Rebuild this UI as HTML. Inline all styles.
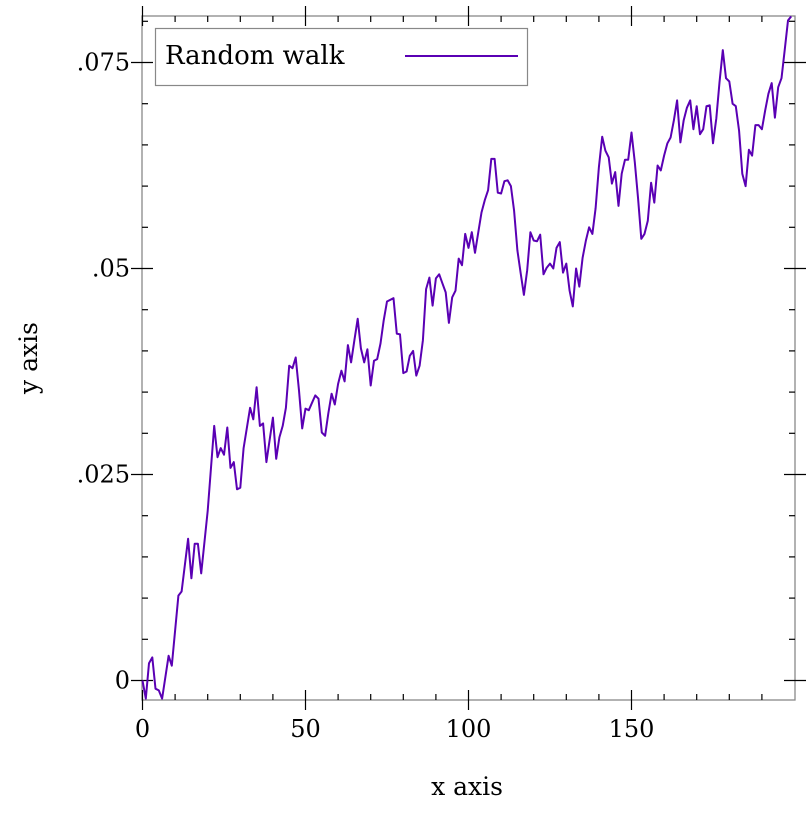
<!DOCTYPE html>
<html><head><meta charset="utf-8"><style>
body{margin:0;background:#fff}
svg text{font-family:"DejaVu Serif","Liberation Serif",serif;fill:#000}
</style></head><body>
<svg id="c" width="812" height="812" viewBox="0 0 812 812"></svg>
<script>
const xs=[0,1,2,3,4,5,6,8,9,11,12,14,15,16,17,18,20,22,23,24,25,26,27,28,29,30,31,33,34,35,36,37,38,40,41,42,43,44,45,46,47,48,49,50,51,52,53,54,55,56,57,58,59,60,61,62,63,64,65,66,67,68,69,70,71,72,73,74,75,77,78,79,80,81,82,83,84,85,86,87,88,89,90,91,92,93,94,95,96,97,98,99,100,101,102,103,104,105,106,107,108,109,110,111,112,113,114,115,116,117,118,119,120,121,122,123,124,125,126,127,128,129,130,131,132,133,134,135,136,137,138,139,140,141,142,143,144,145,146,147,148,149,150,151,152,153,154,155,156,157,158,159,160,161,162,163,164,165,166,167,168,169,170,171,172,173,174,175,176,177,178,179,180,181,182,183,184,185,186,187,188,189,190,191,192,193,194,195,196,197,198,199];
const ysMilli=[0,-2.2,2.1,2.8,-1.0,-1.2,-2.2,3.0,1.8,10.3,10.8,17.2,12.4,16.6,16.6,13.0,20.6,30.9,27.1,28.2,27.4,30.7,25.8,26.5,23.2,23.4,28.2,33.1,31.7,35.6,30.9,31.2,26.5,31.9,26.9,29.5,30.9,33.1,38.2,37.9,39.2,35.2,30.6,33.0,32.8,33.7,34.6,34.2,30.1,29.7,32.4,34.8,33.5,36.0,37.6,36.3,40.7,38.6,41.3,43.9,40.3,38.6,40.2,35.8,38.8,39.0,40.9,43.7,46.0,46.4,42.1,42.0,37.3,37.5,39.4,40.0,37.0,38.2,41.3,47.5,48.9,45.5,48.8,49.3,48.2,47.1,43.4,46.5,47.3,51.2,50.4,54.2,52.5,54.4,51.9,54.4,56.8,58.3,59.5,63.3,63.3,59.2,59.1,60.6,60.7,60.0,57.0,52.2,49.4,46.8,49.8,54.4,53.4,53.3,54.1,49.3,50.1,50.6,50.0,52.5,53.2,49.5,50.6,47.3,45.4,50.0,47.8,51.3,53.4,55.0,54.2,57.3,62.3,66.0,64.3,63.5,60.3,61.7,57.6,61.5,63.2,63.2,66.5,62.9,58.6,53.6,54.2,55.8,60.4,58.0,62.5,61.9,63.7,65.2,65.9,68.0,70.4,65.3,68.0,69.5,70.4,66.9,69.7,66.3,66.9,69.7,69.8,65.2,68.2,72.6,76.5,73.1,72.7,70.0,69.7,66.7,61.5,60.0,64.4,63.7,67.4,67.4,66.9,69.2,71.2,72.5,68.3,72.0,73.1,76.5,80.1,80.6];
const xTickLabels=["0","50","100","150"];
const xTickVals=[0,50,100,150];
const yTickLabels=["0",".025",".05",".075"];
const yTickVals=[0,0.025,0.05,0.075];

const NS="http://www.w3.org/2000/svg";
const svg=document.getElementById('c');
const L=142,R=795,T=16,B=700;
const sx=x=>142.5+x*3.26;
const sy=v=>680.5-v*8240;
function mk(tag,attrs){const e=document.createElementNS(NS,tag);for(const k in attrs)e.setAttribute(k,attrs[k]);svg.appendChild(e);return e;}

const frame=mk('rect',{x:L,y:T,width:R-L,height:B-T,fill:'none',stroke:'#888','stroke-width':1.3});



// x ticks
for(let v=0;v<=199;v+=10){
  const major=v%50===0;const px=sx(v);
  const len=major?10:6;
  const t1=mk('line',{x1:px,y1:B-len,x2:px,y2:B+(major?len:0),stroke:'#000','stroke-width':1.2});
  
  
  const t2=mk('line',{x1:px,y1:T+len,x2:px,y2:T-(major?len:0),stroke:'#000','stroke-width':1.2});
  
  
}
// y ticks
for(let i=0;i<=16;i++){
  const v=i*0.005;const py=sy(v);if(py<T)continue;
  const major=i%5===0;const len=major?11:6;
  const t1=mk('line',{x1:L-(major?len:0),y1:py,x2:L+len,y2:py,stroke:'#000','stroke-width':1.2});
  
  
  const t2=mk('line',{x1:R-len,y1:py,x2:R+(major?len:0),y2:py,stroke:'#000','stroke-width':1.2});
  
  
}
xTickVals.forEach((v,i)=>{
  const t=mk('text',{x:sx(v),y:737,'text-anchor':'middle','font-size':24});
  t.textContent=xTickLabels[i];
  
  
});
yTickVals.forEach((v,i)=>{
  const t=mk('text',{x:130,y:sy(v)+8,'text-anchor':'end','font-size':24});
  t.textContent=yTickLabels[i];
  
  
});
const xt=mk('text',{x:467,y:795,'text-anchor':'middle','font-size':25});
xt.textContent='x axis';


const yt=mk('text',{x:0,y:0,'text-anchor':'middle','font-size':25,transform:'translate(37,358) rotate(-90)'});
yt.textContent='y axis';



const pts=xs.map((x,i)=>sx(x).toFixed(1)+','+sy(ysMilli[i]/1000).toFixed(1)).join(' ');
const line=mk('polyline',{points:pts,fill:'none',stroke:'#5a00b4','stroke-width':2,'stroke-linejoin':'round'});



const g=mk('g',{});


const lb=mk('rect',{x:155.5,y:28.5,width:372,height:57,fill:'#fff',stroke:'#888','stroke-width':1.2});


const lt=mk('text',{x:165,y:64,'font-size':26});
lt.textContent='Random walk';


const ll=mk('line',{x1:405,y1:56,x2:518,y2:56,stroke:'#5a00b4','stroke-width':2});


</script>
</body></html>
